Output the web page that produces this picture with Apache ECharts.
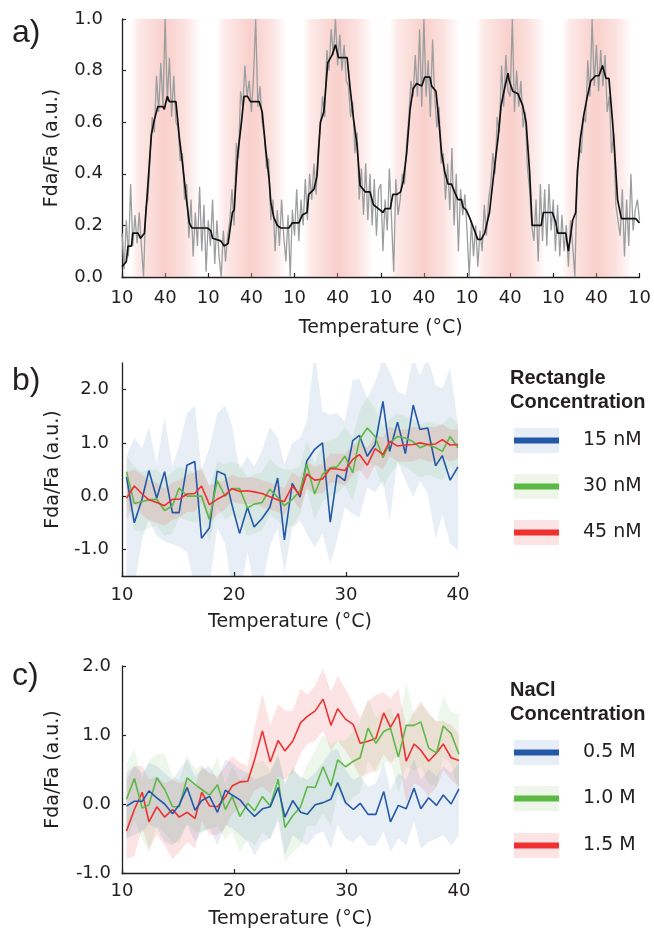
<!DOCTYPE html>
<html><head><meta charset="utf-8">
<script src="https://cdn.jsdelivr.net/npm/echarts@6/dist/echarts.min.js"></script>
<style>html,body{margin:0;padding:0;background:#fff}#c{width:654px;height:930px}</style>
</head><body><div id="c"></div>
<script>
// ---------- Panel a data ----------
const cycleLabels = ['10','40','10','40','10','40','10','40','10','40','10','40','10'];
const grayRaw = [
0.17,0.03,0.22,0.08,0.36,0.12,0.24,0.13,0.25,0.12,0.00,0.27,0.30,0.46,0.62,0.56,0.78,0.64,0.83,0.66,
1.00,0.68,0.85,0.62,0.78,0.60,0.58,0.45,0.48,0.30,0.36,0.15,0.30,0.08,0.25,0.12,0.35,0.10,0.28,0.02,
0.22,0.12,0.30,0.05,0.22,0.08,0.00,0.18,0.06,0.16,0.22,0.34,0.20,0.52,0.46,0.72,0.66,0.82,0.70,0.76,
0.64,0.78,1.00,0.66,0.74,0.60,0.55,0.42,0.46,0.22,0.30,0.10,0.26,0.12,0.30,0.16,0.06,0.24,0.00,0.26,
0.16,0.34,0.14,0.30,0.20,0.38,0.22,0.40,0.30,0.44,0.32,0.50,0.58,0.70,0.62,0.88,0.80,0.96,0.86,1.00,
0.82,0.94,0.80,0.90,0.76,0.74,0.62,0.68,0.48,0.56,0.30,0.42,0.24,0.44,0.22,0.40,0.20,0.38,0.16,0.34,
0.36,0.10,0.30,0.18,0.42,0.22,0.02,0.38,0.24,0.30,0.40,0.36,0.52,0.62,0.76,0.70,0.86,0.70,0.96,0.66,
1.00,0.70,0.84,0.62,0.92,0.70,0.58,0.66,0.44,0.48,0.30,0.44,0.26,0.50,0.20,0.40,0.10,0.34,0.24,0.32,
0.18,0.00,0.22,0.08,0.20,0.04,0.18,0.10,0.28,0.16,0.30,0.36,0.48,0.40,0.62,0.56,0.82,0.66,0.86,0.72,
0.70,1.00,0.64,0.80,0.66,0.76,0.58,0.64,0.42,0.34,0.20,0.14,0.30,0.06,0.36,0.14,0.34,0.12,0.36,0.18,
0.30,0.10,0.28,0.08,0.24,0.10,0.20,0.04,0.22,0.12,0.00,0.36,0.50,0.48,0.62,0.60,0.84,0.70,1.00,0.74,
0.90,0.72,0.88,0.74,0.86,0.64,0.70,0.48,0.56,0.28,0.22,0.16,0.34,0.08,0.30,0.12,0.40,0.18,0.26,0.30,
0.22];
const blackU = [0,0.10,0.14,0.22,0.25,0.37,0.43,0.52,0.60,0.68,
0.75,0.83,0.95,0.98,1.05,1.10,1.25,1.33,1.41,1.48,
1.56,1.62,1.98,2.06,2.10,2.29,2.37,2.46,2.56,2.60,
2.68,2.77,2.83,2.91,2.98,3.18,3.25,3.33,3.41,3.45,
3.52,3.60,3.68,3.87,3.95,4.10,4.18,4.29,4.33,4.45,
4.52,4.60,4.68,4.77,4.87,4.95,5.02,5.22,5.29,5.37,
5.45,5.52,5.64,5.75,5.83,5.98,6.05,6.10,6.22,6.28,
6.38,6.46,6.52,6.60,6.68,6.75,6.83,6.95,7.02,7.14,
7.18,7.28,7.35,7.41,7.48,7.56,7.64,7.71,7.79,7.87,
7.91,7.98,8.06,8.15,8.25,8.33,8.41,8.52,8.64,8.72,
8.79,8.87,8.95,8.98,9.06,9.18,9.29,9.37,9.45,9.51,
9.72,9.77,9.98,10.06,10.10,10.18,10.29,10.35,10.41,10.45,
10.52,10.56,10.63,10.71,10.79,10.87,10.98,11.06,11.14,11.22,
11.29,11.37,11.41,11.49,11.58,11.83,11.91,12.0];
const blackV = [0.04,0.06,0.12,0.12,0.17,0.17,0.15,0.17,0.355,0.55,
0.61,0.66,0.66,0.65,0.70,0.68,0.68,0.54,0.43,0.32,
0.21,0.19,0.19,0.18,0.15,0.14,0.12,0.13,0.25,0.26,
0.47,0.60,0.70,0.70,0.68,0.68,0.64,0.50,0.38,0.29,
0.23,0.20,0.19,0.19,0.21,0.21,0.24,0.25,0.32,0.34,
0.39,0.60,0.64,0.83,0.86,0.90,0.85,0.85,0.73,0.61,
0.51,0.355,0.33,0.33,0.28,0.26,0.25,0.265,0.265,0.32,
0.32,0.33,0.37,0.48,0.65,0.73,0.75,0.74,0.775,0.775,
0.74,0.72,0.60,0.48,0.41,0.36,0.36,0.33,0.30,0.30,
0.27,0.26,0.23,0.19,0.146,0.146,0.17,0.25,0.43,0.54,
0.665,0.73,0.79,0.76,0.72,0.71,0.665,0.60,0.41,0.20,
0.20,0.25,0.25,0.21,0.17,0.17,0.17,0.10,0.17,0.22,
0.25,0.41,0.54,0.63,0.70,0.76,0.78,0.78,0.82,0.77,
0.77,0.61,0.52,0.30,0.226,0.226,0.226,0.21];

// ---------- Panels b / c shared temperatures ----------
const temps = [10.4,11.1,11.8,12.4,13.1,13.8,14.5,15.1,15.8,16.5,17.1,17.8,18.5,19.2,19.8,20.5,21.2,21.8,22.5,23.2,23.9,24.5,25.2,25.9,26.5,27.2,27.9,28.6,29.2,29.9,30.6,31.2,31.9,32.6,33.3,33.9,34.6,35.3,36.0,36.6,37.3,38.0,38.6,39.3,40.0];

// ---------- Panel b ----------
const blueB = [0.36,-0.50,-0.05,0.48,-0.04,0.46,-0.31,-0.31,0.58,0.65,-0.79,-0.60,0.47,0.40,-0.15,-0.70,-0.21,-0.58,-0.42,-0.21,0.34,-0.82,0.24,-0.02,0.66,0.88,1.00,-0.49,0.40,0.29,1.04,1.14,0.75,0.97,1.78,0.84,1.39,0.80,1.71,1.25,1.28,0.57,0.76,0.30,0.55];
const blueBHi = [0.75,1.10,0.90,1.30,0.60,1.50,0.55,0.95,1.55,1.70,0.50,0.90,1.55,1.70,1.35,0.50,0.75,0.55,0.85,1.30,1.10,0.60,1.00,1.09,1.40,2.70,1.60,1.53,1.56,1.40,2.18,2.21,1.84,2.15,2.60,2.34,1.96,1.90,2.60,2.27,2.60,2.09,2.02,2.40,1.34];
const blueBLo = [-1.70,-1.70,-0.80,-0.45,-0.75,-0.85,-0.90,-0.95,-1.05,-1.70,-1.80,-1.70,-0.60,-0.90,-1.70,-1.90,-1.05,-1.70,-1.70,-0.95,-0.60,-1.45,-0.60,-0.46,-0.71,-0.96,-0.71,-1.27,-0.83,-0.21,-0.34,-0.40,0.16,0.07,0.29,-0.46,0.66,0.29,-0.02,0.29,0.04,-0.80,-0.34,-0.89,-1.02];
const greenB = [0.46,-0.14,-0.10,-0.07,-0.06,-0.27,-0.18,0.15,0.00,0.00,0.00,-0.44,0.29,0.00,0.14,0.14,-0.22,-0.15,-0.12,0.13,-0.02,-0.18,-0.06,0.10,0.60,0.04,0.41,0.53,0.55,0.75,0.44,1.06,1.28,1.12,0.72,1.00,1.12,1.09,1.02,0.91,0.97,0.91,0.84,1.12,0.91];
const greenBHi = [0.75,0.55,0.45,0.50,0.50,0.35,0.45,0.55,0.50,0.45,0.55,0.15,0.65,0.60,0.65,0.60,0.35,0.40,0.45,0.70,0.55,0.50,0.50,0.55,1.05,0.60,1.00,1.05,1.10,1.30,1.10,1.60,1.85,1.65,1.30,1.45,1.55,1.50,1.45,1.35,1.40,1.35,1.35,1.50,1.35];
const greenBLo = [-0.10,-0.65,-0.65,-0.60,-0.55,-0.75,-0.70,-0.40,-0.45,-0.50,-0.45,-0.85,-0.20,-0.45,-0.35,-0.45,-0.75,-0.70,-0.65,-0.35,-0.45,-0.60,-0.55,-0.35,0.15,-0.45,-0.10,0.00,0.05,0.20,-0.10,0.45,0.65,0.55,0.15,0.40,0.60,0.55,0.45,0.35,0.40,0.35,0.30,0.55,0.35];
const redB = [-0.04,0.19,0.04,-0.07,-0.12,-0.18,-0.06,-0.06,0.04,0.05,0.19,-0.16,-0.06,0.02,0.14,0.09,0.10,0.08,0.05,-0.01,-0.07,-0.10,0.19,0.02,0.42,0.30,0.32,0.52,0.51,0.48,0.69,0.78,0.58,0.89,0.78,1.03,0.94,0.96,0.97,1.00,0.97,0.98,1.06,0.96,0.97];
const redBHi = [0.45,0.50,0.40,0.30,0.25,0.15,0.25,0.30,0.40,0.45,0.50,0.20,0.25,0.30,0.40,0.35,0.35,0.35,0.30,0.25,0.20,0.15,0.45,0.35,0.65,0.55,0.60,0.80,0.80,0.80,0.95,1.05,0.90,1.15,1.10,1.30,1.25,1.25,1.30,1.30,1.30,1.30,1.35,1.25,1.25];
const redBLo = [-0.45,-0.15,-0.35,-0.45,-0.50,-0.55,-0.45,-0.40,-0.30,-0.30,-0.10,-0.50,-0.35,-0.25,-0.10,-0.15,-0.15,-0.15,-0.20,-0.25,-0.30,-0.35,-0.05,-0.25,0.15,0.05,0.05,0.25,0.25,0.20,0.40,0.50,0.30,0.60,0.50,0.75,0.65,0.65,0.65,0.70,0.65,0.65,0.75,0.65,0.70];
const yTicksB = [-1, 0, 1, 2];
const legendB = ['15 nM', '30 nM', '45 nM'];

// ---------- Panel c ----------
const blueC = [-0.03,0.04,0.04,0.19,0.09,0.00,-0.14,-0.01,0.24,-0.09,0.05,0.11,-0.12,0.20,0.13,0.06,-0.08,-0.18,-0.07,-0.04,0.24,-0.19,0.05,-0.12,-0.15,-0.01,0.02,0.07,0.31,0.02,-0.08,0.01,-0.15,-0.15,0.18,-0.26,-0.02,-0.07,0.23,-0.07,0.09,-0.02,0.13,0.00,0.22];
const blueCHi = [0.45,0.55,0.45,0.60,0.55,0.45,0.35,0.50,0.65,0.40,0.50,0.55,0.35,0.65,0.60,0.50,0.45,0.35,0.40,0.45,0.70,0.30,0.50,0.40,0.35,0.45,0.60,0.77,0.80,0.50,0.35,0.40,0.25,0.30,0.60,0.20,0.45,0.35,0.65,0.35,0.50,0.40,0.55,0.45,0.60];
const blueCLo = [-0.50,-0.45,-0.40,-0.30,-0.35,-0.55,-0.60,-0.50,-0.30,-0.55,-0.40,-0.35,-0.60,-0.30,-0.35,-0.45,-0.55,-0.75,-0.55,-0.50,-0.25,-0.75,-0.45,-0.55,-0.60,-0.45,-0.40,-0.65,-0.30,-0.50,-0.55,-0.45,-0.60,-0.60,-0.40,-0.70,-0.50,-0.60,-0.25,-0.65,-0.55,-0.50,-0.45,-0.60,-0.45];
const greenC = [0.07,0.37,-0.06,-0.01,0.38,0.21,-0.04,-0.04,0.38,0.28,0.21,0.13,0.28,-0.08,0.11,-0.18,0.01,-0.10,0.11,-0.03,0.36,-0.34,-0.17,-0.04,0.25,0.24,0.54,0.26,0.64,0.54,0.62,0.67,1.10,0.88,1.05,1.10,0.68,1.14,1.14,1.19,0.81,0.74,1.13,1.02,0.72];
const greenCHi = [0.58,0.81,0.35,0.63,0.73,0.73,0.39,0.35,0.70,0.51,0.56,0.44,0.68,0.28,0.54,0.35,0.44,0.58,0.63,0.49,0.73,0.30,0.54,0.35,0.58,0.77,1.01,0.87,0.92,0.92,1.06,1.20,1.53,1.25,1.34,1.39,1.11,1.77,1.30,1.45,1.34,1.20,1.58,1.34,1.30];
const greenCLo = [-0.51,-0.22,-0.51,-0.70,-0.32,-0.41,-0.56,-0.56,-0.27,-0.41,-0.41,-0.37,-0.32,-0.51,-0.41,-0.70,-0.51,-0.60,-0.41,-0.51,-0.18,-0.84,-0.70,-0.60,-0.32,-0.32,-0.13,-0.32,0.16,-0.03,0.11,0.16,0.63,0.44,0.58,0.63,0.16,0.54,0.49,0.54,0.30,0.25,0.68,0.58,0.16];
const redC = [-0.39,-0.08,0.17,-0.26,-0.04,-0.19,-0.08,-0.19,-0.12,-0.21,0.17,-0.03,-0.04,0.10,0.26,0.32,0.33,0.64,1.06,0.61,0.92,0.77,0.91,1.18,1.27,1.35,1.52,1.14,1.38,1.23,1.15,0.88,0.91,0.95,1.32,1.11,1.31,0.62,0.87,0.78,0.62,0.74,0.87,0.67,0.63];
const redCHi = [0.35,0.55,0.55,0.35,0.40,0.30,0.35,0.30,0.35,0.25,0.55,0.45,0.40,0.55,0.70,0.60,0.55,1.10,1.60,1.15,1.45,1.35,1.35,1.67,1.58,1.72,1.96,1.63,1.86,1.67,1.44,1.25,1.49,1.58,1.62,1.53,1.67,1.11,1.34,1.49,1.30,1.20,1.20,1.15,1.01];
const redCLo = [-0.80,-0.75,-0.35,-0.65,-0.45,-0.60,-0.80,-0.70,-0.55,-0.65,-0.25,-0.45,-0.45,-0.35,-0.15,-0.05,0.00,0.20,0.25,0.15,0.40,0.35,0.45,0.73,0.87,0.92,1.06,0.77,0.92,0.77,0.58,0.39,0.44,0.49,0.73,0.58,0.73,0.01,0.30,0.25,0.11,0.25,0.49,0.35,0.25];
const legendC = ['0.5 M', '1.0 M', '1.5 M'];

// ---------- styling ----------
const TXT = '#231f20';
const FONT = 'DejaVu Sans';
const LINE = {blue:'#2357a8', green:'#5cb946', red:'#ee3030'};
const BAND = {blue:'rgba(40,100,175,0.11)', green:'rgba(90,180,70,0.11)', red:'rgba(235,50,50,0.13)'};
const LEGBOX = {blue:'#e8eef7', green:'#eef6ea', red:'#fce4e4'};

function pink(a){ return 'rgba(242,150,140,' + a + ')'; }
const stripes = [];
for (let k = 0; k < 12; k++) {
  const rising = k % 2 === 0;
  const stops = rising
    ? [{offset:0,color:pink(0)},{offset:0.2,color:pink(0)},{offset:0.38,color:pink(0.2)},{offset:1,color:pink(0.46)}]
    : [{offset:0,color:pink(0.46)},{offset:0.45,color:pink(0.28)},{offset:0.75,color:pink(0.06)},{offset:0.82,color:pink(0)},{offset:1,color:pink(0)}];
  stripes.push([{xAxis:k, itemStyle:{color:{type:'linear',x:0,y:0,x2:1,y2:0,colorStops:stops}}},{xAxis:k+1}]);
}

function xAx(grid, min, max, interval, margin, gap, fmt) {
  return {gridIndex:grid, type:'value', min:min, max:max, interval:interval,
    axisLine:{onZero:false, lineStyle:{color:TXT,width:1.3}},
    axisTick:{inside:true,length:4,lineStyle:{color:TXT,width:1.2}},
    axisLabel:{color:TXT,fontFamily:FONT,fontSize:18,margin:margin,showMinLabel:true,showMaxLabel:true,formatter:fmt},
    splitLine:{show:false},
    name:'Temperature (°C)', nameLocation:'middle', nameGap:gap,
    nameTextStyle:{color:TXT,fontFamily:FONT,fontSize:19}};
}
function yAx(grid, min, max, extra, margin, gap) {
  const a = {gridIndex:grid, type:'value', min:min, max:max,
    axisLine:{show:true,onZero:false,lineStyle:{color:TXT,width:1.3}},
    axisTick:{show:true,inside:true,length:4,lineStyle:{color:TXT,width:1.2}},
    axisLabel:{color:TXT,fontFamily:FONT,fontSize:18,margin:margin,showMinLabel:true,showMaxLabel:true,formatter:v=>Number(v).toFixed(1)},
    splitLine:{show:false},
    name:'Fda/Fa (a.u.)', nameLocation:'middle', nameGap:gap, nameRotate:90,
    nameTextStyle:{color:TXT,fontFamily:FONT,fontSize:19}};
  if (extra.interval) a.interval = extra.interval;
  if (extra.custom) { a.axisLabel.customValues = extra.custom; a.axisTick.customValues = extra.custom; }
  return a;
}

function band(lo, hi, color, xi, yi) {
  return {type:'custom', coordinateSystem:'cartesian2d', xAxisIndex:xi, yAxisIndex:yi,
    clip:true, silent:true, z:1, data:[[temps[0], 0]],
    renderItem:(params, api) => {
      const pts = [];
      for (let i = 0; i < temps.length; i++) pts.push(api.coord([temps[i], hi[i]]));
      for (let i = temps.length - 1; i >= 0; i--) pts.push(api.coord([temps[i], lo[i]]));
      return {type:'polygon', shape:{points:pts}, style:{fill:color, stroke:null}};
    }};
}
function line(vals, color, xi, yi) {
  return {type:'line', xAxisIndex:xi, yAxisIndex:yi, data: temps.map((t,i)=>[t, vals[i]]),
    symbol:'none', silent:true, lineStyle:{color:color,width:1.6}, z:3};
}

const series = [
  {type:'line', xAxisIndex:0, yAxisIndex:0, data:[], silent:true, z:0,
   markArea:{silent:true, data:stripes}},
  {type:'line', xAxisIndex:1, yAxisIndex:0, data:grayRaw, symbol:'none', silent:true,
   lineStyle:{color:'#9b9e9f', width:1.3}, z:2},
  {type:'line', xAxisIndex:0, yAxisIndex:0, data:blackU.map((u,i)=>[u, blackV[i]]), symbol:'none', silent:true,
   lineStyle:{color:'#111111', width:1.7}, z:3},
  band(blueBLo, blueBHi, BAND.blue, 2, 1),
  band(greenBLo, greenBHi, BAND.green, 2, 1),
  band(redBLo, redBHi, BAND.red, 2, 1),
  line(blueB, LINE.blue, 2, 1),
  line(greenB, LINE.green, 2, 1),
  line(redB, LINE.red, 2, 1),
  band(redCLo, redCHi, BAND.red, 3, 2),
  band(greenCLo, greenCHi, BAND.green, 3, 2),
  band(blueCLo, blueCHi, BAND.blue, 3, 2),
  line(redC, LINE.red, 3, 2),
  line(greenC, LINE.green, 3, 2),
  line(blueC, LINE.blue, 3, 2)
];

function txt(x, y, s, font) {
  return {type:'text', x:x, y:y, silent:true,
    style:{text:s, font:font, fill:TXT, align:'left', verticalAlign:'middle', textAlign:'left', textVerticalAlign:'middle'}};
}
const graphics = [
  txt(12, 33, 'a)', '32px "Liberation Sans"'),
  txt(12, 381, 'b)', '32px "Liberation Sans"'),
  txt(12, 676, 'c)', '32px "Liberation Sans"'),
  txt(510, 378, 'Rectangle', 'bold 20px "Liberation Sans"'),
  txt(510, 402, 'Concentration', 'bold 20px "Liberation Sans"'),
  txt(510, 690, 'NaCl', 'bold 20px "Liberation Sans"'),
  txt(510, 714, 'Concentration', 'bold 20px "Liberation Sans"')
];
const legKeys = ['blue','green','red'];
const legYB = [440.5, 486.5, 532.5];
const legYC = [752.5, 798.5, 845.5];
legKeys.forEach((k, i) => {
  [[legYB[i], legendB[i]], [legYC[i], legendC[i]]].forEach(([cy, label]) => {
    graphics.push({type:'rect', silent:true, shape:{x:514, y:cy-12.5, width:45, height:25}, style:{fill:LEGBOX[k]}});
    graphics.push({type:'line', silent:true, shape:{x1:514, y1:cy, x2:559, y2:cy}, style:{stroke:LINE[k], lineWidth:6}});
    graphics.push(txt(583, cy, label, '19px "DejaVu Sans"'));
  });
});

const option = {
  animation:false,
  backgroundColor:'#ffffff',
  grid:[
    {left:122, top:19, width:520, height:258},
    {left:122, top:363, width:336, height:213},
    {left:122, top:666, width:337, height:211}
  ],
  xAxis:[
    xAx(0, 0, 12, 1, 12, 42, v => cycleLabels[Math.round(v)]),
    {gridIndex:0, type:'category', data:grayRaw.map((_, i) => i), boundaryGap:false, show:false},
    xAx(1, 10, 40, 10, 10, 37),
    xAx(2, 10, 40, 10, 9, 37)
  ],
  yAxis:[
    yAx(0, 0, 1, {interval:0.2}, 19, 60),
    yAx(1, -1.5, 2.5, {custom:yTicksB}, 13, 59),
    yAx(2, -1, 2, {interval:1}, 11, 59)
  ],
  series:series,
  graphic:{elements:graphics}
};
const chart = echarts.init(document.getElementById('c'), null, {renderer:'canvas'});
chart.setOption(option);
</script></body></html>
